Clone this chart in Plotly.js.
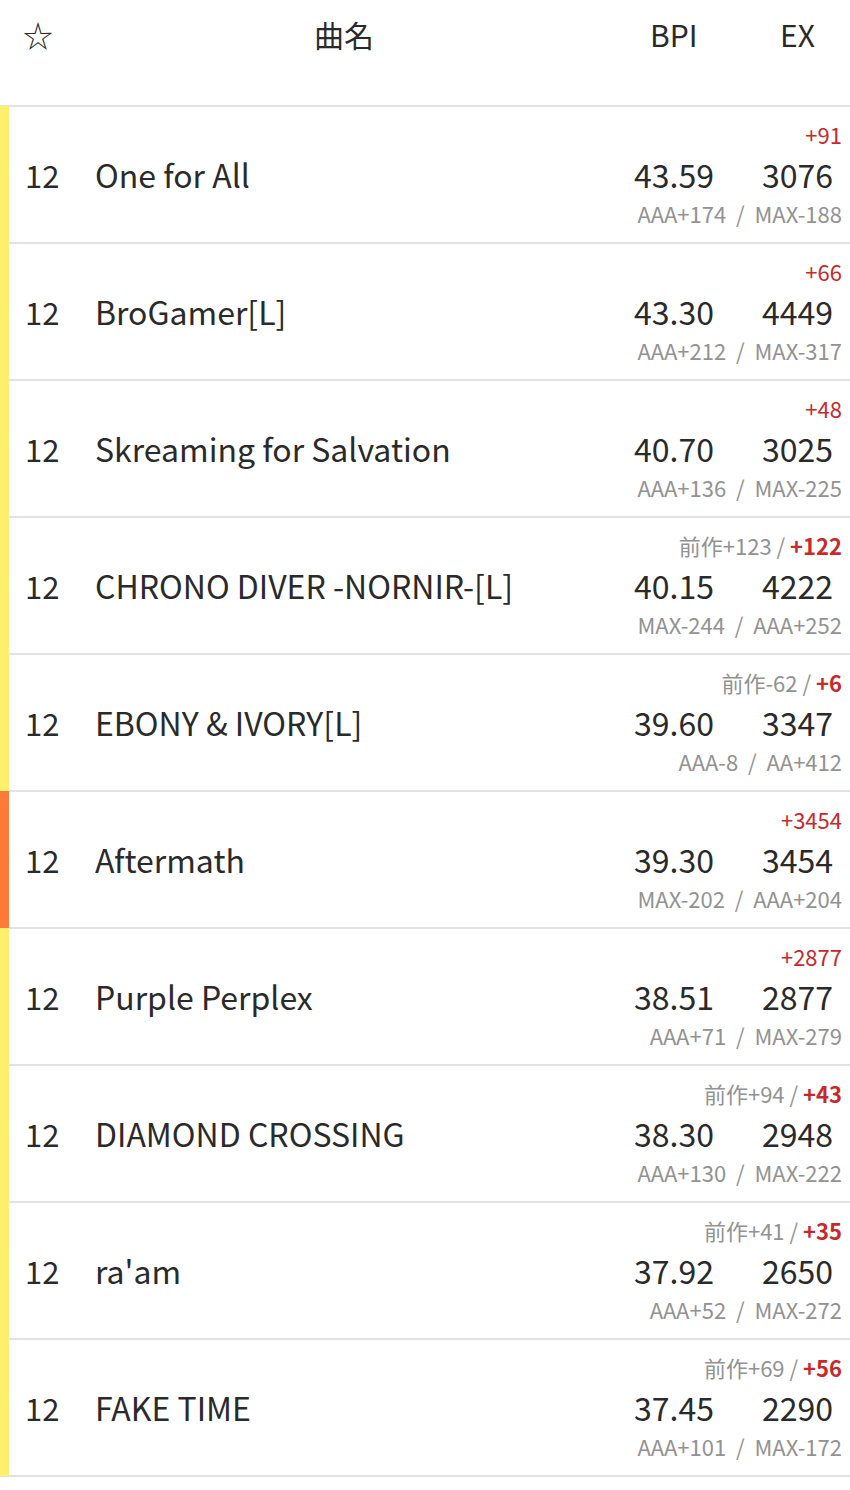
<!DOCTYPE html>
<html>
<head>
<meta charset="utf-8">
<script src="https://cdn.plot.ly/plotly-3.0.1.min.js"></script>
<style>
  html, body { margin: 0; padding: 0; background: #fff; }
  #chart { width: 850px; height: 1490px; }
</style>
</head>
<body>
<div id="chart"></div>
<script>
// score list, one entry per song
const levels = [12, 12, 12, 12, 12, 12, 12, 12, 12, 12];
const titles = ["One for All", "BroGamer[L]", "Skreaming for Salvation", "CHRONO DIVER -NORNIR-[L]",
                "EBONY & IVORY[L]", "Aftermath", "Purple Perplex", "DIAMOND CROSSING", "ra'am", "FAKE TIME"];
const bpi = ["43.59", "43.30", "40.70", "40.15", "39.60", "39.30", "38.51", "38.30", "37.92", "37.45"];
const exScore = [3076, 4449, 3025, 4222, 3347, 3454, 2877, 2948, 2650, 2290];
const prevDiff = [null, null, null, "+123", "-62", null, null, "+94", "+41", "+69"];
const exDiff = ["+91", "+66", "+48", "+122", "+6", "+3454", "+2877", "+43", "+35", "+56"];
const notes = ["AAA+174 / MAX-188", "AAA+212 / MAX-317", "AAA+136 / MAX-225", "MAX-244 / AAA+252",
               "AAA-8 / AA+412", "MAX-202 / AAA+204", "AAA+71 / MAX-279", "AAA+130 / MAX-222",
               "AAA+52 / MAX-272", "AAA+101 / MAX-172"];
const lamps = ["hard", "hard", "hard", "hard", "hard", "exhard", "hard", "hard", "hard", "hard"];

const lampColor = { hard: "#fdf06c", exhard: "#ff7a38" };
const font = "'Noto Sans CJK JP', 'Noto Sans', sans-serif";
const dark = "#2a2a2a";
const grey = "#929292";
const red = "#c8282b";

// row i covers y in [i, i+1]
const rows = titles.map((t, i) => i);
const yMid = rows.map(i => i + 0.54);
const yTop = rows.map(i => i + 0.24);
const yBot = rows.map(i => i + 0.815);

const topText = rows.map(i => {
  if (prevDiff[i]) {
    return '<span style="color:' + grey + '">前作' + prevDiff[i] + ' / </span>' +
           '<b>' + exDiff[i] + '</b>';
  }
  return exDiff[i];
});

function textTrace(xs, ys, txt, pos, size, color) {
  return {
    type: "scatter", mode: "text",
    x: xs, y: ys, text: txt, textposition: pos,
    textfont: { family: font, size: size, color: color },
    hoverinfo: "skip", showlegend: false, cliponaxis: false
  };
}

const data = [
  {
    type: "bar", orientation: "h",
    y: rows.map(i => i + 0.5), x: rows.map(() => 9), base: 0, width: 1,
    marker: { color: lamps.map(l => lampColor[l]), line: { width: 0 } },
    hoverinfo: "skip", showlegend: false
  },
  textTrace(rows.map(() => 25), yMid, levels.map(String), "middle right", 31, dark),
  textTrace(rows.map(() => 95), yMid, titles, "middle right", 32, dark),
  textTrace(rows.map(() => 714), yMid, bpi, "middle left", 32, dark),
  textTrace(rows.map(() => 833), yMid, exScore.map(String), "middle left", 32, dark),
  textTrace(rows.map(() => 842), yTop, topText, "middle left", 22, red),
  textTrace(rows.map(() => 842), yBot, notes.map(n => n.replace(" / ", "  /  ")), "middle left", 22, grey)
];

const layout = {
  width: 850, height: 1490,
  margin: { l: 0, r: 0, t: 0, b: 0 },
  paper_bgcolor: "#fff", plot_bgcolor: "#fff",
  xaxis: { range: [0, 850], visible: false, fixedrange: true },
  yaxis: {
    range: [(1490 - 106) / 137, -106 / 137],
    tickvals: [0, 1, 2, 3, 4, 5, 6, 7, 8, 9, 10],
    showgrid: true, gridcolor: "#e2e2e2", gridwidth: 2,
    zeroline: false, showticklabels: false, ticks: "", fixedrange: true
  },
  annotations: [
    { text: "☆", x: 38, y: -0.525 },
    { text: "曲名", x: 344, y: -0.525 },
    { text: "BPI", x: 674, y: -0.525 },
    { text: "EX", x: 797, y: -0.525 }
  ].map(a => Object.assign(a, {
    xref: "x", yref: "y", showarrow: false, xanchor: "center", yanchor: "middle",
    font: { family: font, size: 30, color: dark }
  }))
};

Plotly.newPlot("chart", data, layout, { staticPlot: true });
</script>
</body>
</html>
